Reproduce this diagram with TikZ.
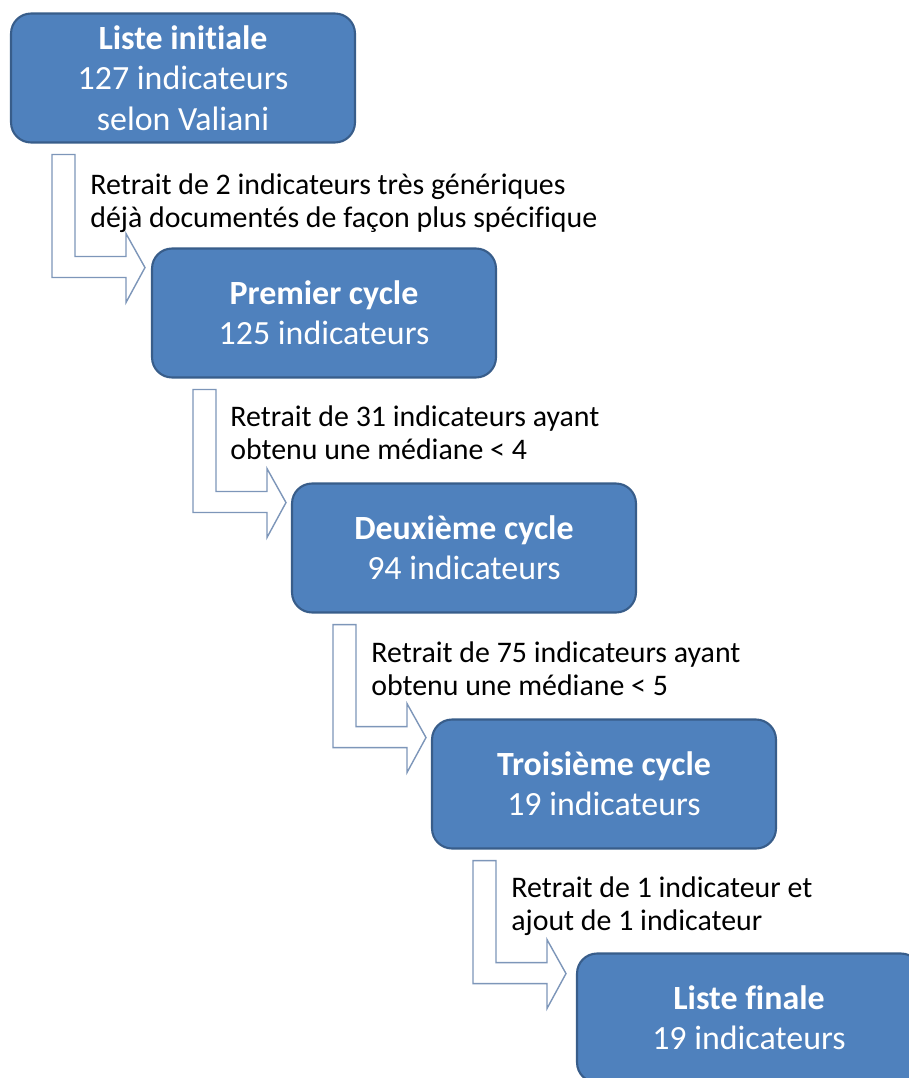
\documentclass[tikz,border=0pt]{standalone}
\usepackage{fontspec}
\setmainfont[Ligatures={NoCommon}]{Carlito}
\usetikzlibrary{calc}
\definecolor{boxblue}{HTML}{4F81BD}
\definecolor{boxedge}{HTML}{385D8A}
\definecolor{arrowedge}{RGB}{125,150,185}
\begin{document}
\begin{tikzpicture}[x=0.02cm, y=-0.02cm,
  cyclebox/.style={draw=boxedge, line width=1.2pt, fill=boxblue, rounded corners=0.4cm,
    minimum width=6.88cm, minimum height=2.58cm, text=white, align=center,
    font=\fontsize{19.3}{23}\selectfont},
  steplabel/.style={anchor=north west, inner sep=0pt, align=left,
    font=\fontsize{17}{18.6}\selectfont},
  bentarrow/.pic={\draw[arrowedge, fill=white, line width=0.8pt] (0,0) -- (23,0) -- (23,102) -- (74,102) -- (74,79) -- (93,113) -- (74,148) -- (74,123) -- (0,123) -- cycle;}]
\clip (0,0) rectangle (909,1078);
\node[cyclebox] (li) at (183,78) {\textbf{Liste initiale}\\127 indicateurs\\selon Valiani};
\node[cyclebox] (c1) at (324,313) {\textbf{Premier cycle}\\125 indicateurs};
\node[cyclebox] (c2) at (464,548) {\textbf{Deuxième cycle}\\94 indicateurs};
\node[cyclebox] (c3) at (604,784) {\textbf{Troisième cycle}\\19 indicateurs};
\node[cyclebox] (lf) at (749,1018) {\textbf{Liste finale}\\19 indicateurs};
\pic at ($(li.south west)+(42,11)$) {bentarrow};
\pic at ($(c1.south west)+(42,11)$) {bentarrow};
\pic at ($(c2.south west)+(42,11)$) {bentarrow};
\pic at ($(c3.south west)+(42,11)$) {bentarrow};
\node[steplabel] (r1) at ($(li.south west)+(80,30)$) {Retrait de 2 indicateurs très génériques\\déjà documentés de façon plus spécifique};
\node[steplabel] (r2) at ($(c1.south west)+(79,27)$) {Retrait de 31 indicateurs ayant\\obtenu une médiane < 4};
\node[steplabel] (r3) at ($(c2.south west)+(80,28)$) {Retrait de 75 indicateurs ayant\\obtenu une médiane < 5};
\node[steplabel] (r4) at ($(c3.south west)+(80,27)$) {Retrait de 1 indicateur et\\ajout de 1 indicateur};
\end{tikzpicture}
\end{document}
